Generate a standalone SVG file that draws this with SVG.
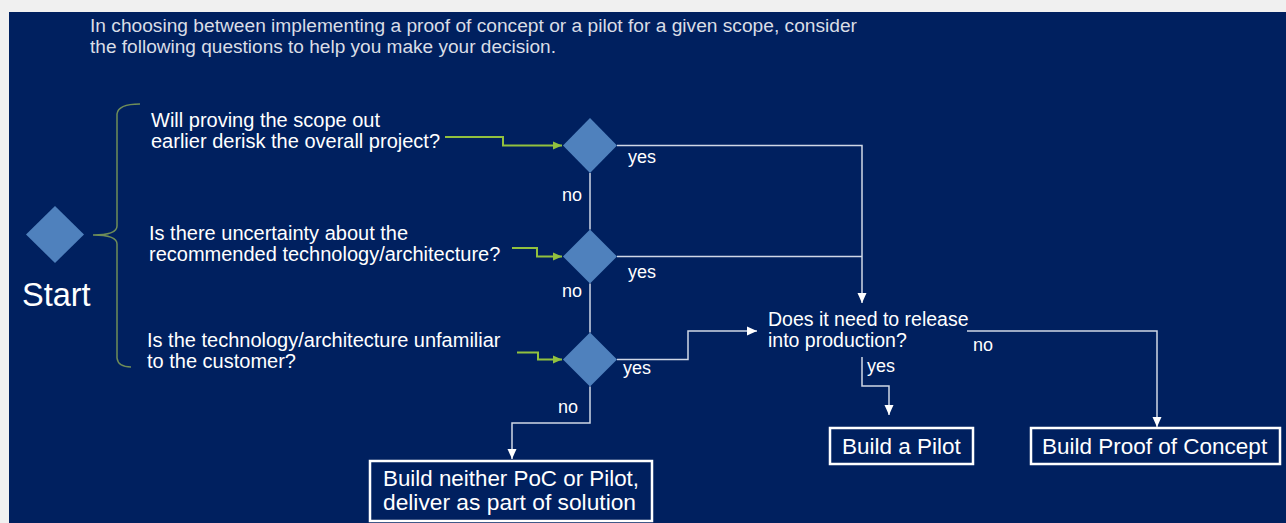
<svg xmlns="http://www.w3.org/2000/svg" width="1286" height="523" viewBox="0 0 1286 523">
<style>
text{font-family:"Liberation Sans",Arial,sans-serif;fill:#ffffff}
.title{font-size:18px;fill:#d9dde6}
.q{font-size:20px}
.lbl{font-size:18px}
.box{fill:#00205f;stroke:#ffffff;stroke-width:2.5}
.boxt{font-size:22.5px}
.dia{fill:#4f81bd}
.con{fill:none;stroke:#d0d7e6;stroke-width:1.5}
.grn{fill:none;stroke:#92c13e;stroke-width:2}
</style>
<defs>
<marker id="aw" markerUnits="userSpaceOnUse" markerWidth="10" markerHeight="10" viewBox="0 0 10 10" refX="10" refY="5" orient="auto">
<path d="M0,0.5 L10,5 L0,9.5 Z" fill="#ffffff"/>
</marker>
<marker id="ag" markerUnits="userSpaceOnUse" markerWidth="9" markerHeight="9" viewBox="0 0 10 10" refX="10" refY="5" orient="auto">
<path d="M0,0.5 L10,5 L0,9.5 Z" fill="#92c13e"/>
</marker>
</defs>
<rect x="0" y="0" width="1286" height="523" fill="#f0f0f0"/>
<rect x="9" y="12" width="1277" height="511" fill="#00205f"/>
<g id="title">
<text class="title" x="90" y="32" textLength="767" lengthAdjust="spacingAndGlyphs">In choosing between implementing a proof of concept or a pilot for a given scope, consider</text>
<text class="title" x="90" y="53" textLength="466" lengthAdjust="spacingAndGlyphs">the following questions to help you make your decision.</text>
</g>
<g id="start">
<polygon class="dia" points="55,206 84,234.5 55,263 26,234.5"/>
<text x="22" y="306" style="font-size:32.5px">Start</text>
</g>
<g id="brace">
<path d="M140,104 Q118,104 117,114 L117,226 Q117,235 93,235 Q117,235 117,244 L117,358 Q118,367 131,367" fill="none" stroke="#6f8d58" stroke-width="1.5"/>
</g>
<g id="q1">
<text class="q" x="151" y="127">Will proving the scope out</text>
<text class="q" x="151" y="148">earlier derisk the overall project?</text>
</g>
<g id="q2">
<text class="q" x="149" y="240">Is there uncertainty about the</text>
<text class="q" x="149" y="261">recommended technology/architecture?</text>
</g>
<g id="q3">
<text class="q" x="147" y="347">Is the technology/architecture unfamiliar</text>
<text class="q" x="147" y="368">to the customer?</text>
</g>
<g id="d1"><polygon class="dia" points="590,118 617,145.5 590,173 563,145.5"/></g>
<g id="d2"><polygon class="dia" points="590,229.5 617,256.5 590,283.5 563,256.5"/></g>
<g id="d3"><polygon class="dia" points="590,332.5 617,359.5 590,386.5 563,359.5"/></g>
<g id="release">
<text class="q" x="768" y="326" style="font-size:19.5px">Does it need to release</text>
<text class="q" x="768" y="347" style="font-size:19.5px">into production?</text>
</g>
<g id="neither">
<rect class="box" x="370" y="461" width="282" height="60"/>
<text class="boxt" x="383" y="486" textLength="256" lengthAdjust="spacingAndGlyphs">Build neither PoC or Pilot,</text>
<text class="boxt" x="383" y="510" textLength="253" lengthAdjust="spacingAndGlyphs">deliver as part of solution</text>
</g>
<g id="pilot">
<rect class="box" x="830" y="428" width="143" height="36"/>
<text class="boxt" x="842" y="454">Build a Pilot</text>
</g>
<g id="poc">
<rect class="box" x="1031" y="428" width="249" height="36"/>
<text class="boxt" x="1042" y="454">Build Proof of Concept</text>
</g>
<g id="connectors">
<path class="grn" d="M445,137 L503,137 L503,145.5 L562,145.5" marker-end="url(#ag)"/>
<path class="grn" d="M512,248 L537,248 L537,256.5 L562,256.5" marker-end="url(#ag)"/>
<path class="grn" d="M517,352.5 L538,352.5 L538,359.5 L562,359.5" marker-end="url(#ag)"/>
<path class="con" d="M617,145.5 L862,145.5 L862,303" marker-end="url(#aw)"/>
<path class="con" d="M617,256.5 L862,256.5"/>
<path class="con" d="M590,173 L590,229.5"/>
<path class="con" d="M590,283.5 L590,332.5"/>
<path class="con" d="M617,359.5 L688,359.5 L688,331 L757,331" marker-end="url(#aw)"/>
<path class="con" d="M590,386.5 L590,423 L512,423 L512,459" marker-end="url(#aw)"/>
<path class="con" d="M862,357 L862,386 L889,386 L889,415" marker-end="url(#aw)"/>
<path class="con" d="M967,331 L1157,331 L1157,427" marker-end="url(#aw)"/>
<text class="lbl" x="628" y="163">yes</text>
<text class="lbl" x="628" y="278">yes</text>
<text class="lbl" x="623" y="374">yes</text>
<text class="lbl" x="867" y="372">yes</text>
<text class="lbl" x="562" y="201">no</text>
<text class="lbl" x="562" y="297">no</text>
<text class="lbl" x="558" y="413">no</text>
<text class="lbl" x="973" y="351">no</text>
</g>
</svg>
